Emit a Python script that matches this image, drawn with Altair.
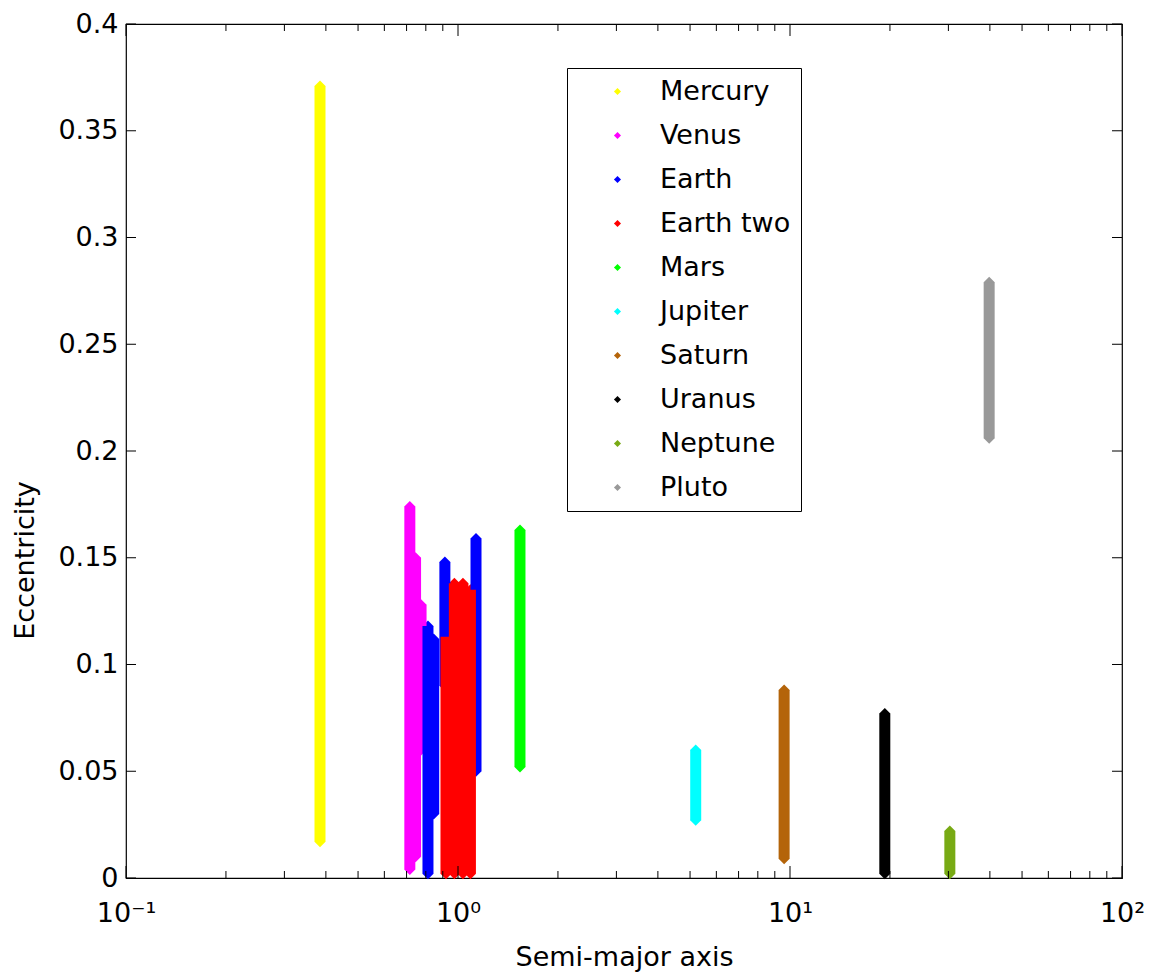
import altair as alt
import pandas as pd

planets = ["Mercury", "Venus", "Earth", "Earth two", "Mars",
           "Jupiter", "Saturn", "Uranus", "Neptune", "Pluto"]
colors = ["#ffff00", "#ff00ff", "#0000ff", "#ff0000", "#00ff00",
          "#00ffff", "#b4640a", "#000000", "#78aa14", "#999999"]

# vertical bands of the orbit clouds: planet, semi-major axis, eccentricity range
seg_planet = ["Mercury",
              "Venus", "Venus", "Venus",
              "Earth", "Earth", "Earth", "Earth",
              "Earth two", "Earth two", "Earth two", "Earth two",
              "Mars", "Jupiter", "Saturn", "Uranus", "Neptune", "Pluto"]
seg_a = [0.384,
         0.716, 0.745, 0.774,
         0.812, 0.845, 0.913, 1.133,
         0.920, 0.975, 1.035, 1.090,
         1.537, 5.2, 9.6, 19.3, 30.3, 39.8]
seg_e_low = [0.017,
             0.004, 0.010, 0.060,
             0.002, 0.030, 0.090, 0.050,
             0.002, 0.002, 0.002, 0.002,
             0.052, 0.027, 0.009, 0.002, 0.002, 0.206]
seg_e_high = [0.371,
              0.174, 0.150, 0.128,
              0.118, 0.112, 0.148, 0.159,
              0.113, 0.138, 0.138, 0.135,
              0.163, 0.060, 0.088, 0.077, 0.022, 0.279]

x_major_ticks = [0.1, 1, 10, 100]
x_minor_ticks = [0.2, 0.3, 0.4, 0.5, 0.6, 0.7, 0.8, 0.9,
                 2, 3, 4, 5, 6, 7, 8, 9,
                 20, 30, 40, 50, 60, 70, 80, 90]
y_ticks = [0, 0.05, 0.1, 0.15, 0.2, 0.25, 0.3, 0.35, 0.4]

W, H = 996, 854
FONT = "DejaVu Sans"

seg = pd.DataFrame({"planet": seg_planet, "a": seg_a,
                    "e_low": seg_e_low, "e_high": seg_e_high})

xscale = alt.Scale(type="log", domain=[0.1, 100], nice=False)
yscale = alt.Scale(domain=[0, 0.4], nice=False, zero=False)

xaxis = alt.Axis(
    title="Semi-major axis", values=x_major_ticks,
    labelExpr="'10' + (datum.value < 0.5 ? '⁻¹' : datum.value < 5 ? '⁰' : datum.value < 50 ? '¹' : '²')",
    labelFlush=False, labelOverlap=False, labelPadding=22, titlePadding=18,
    ticks=False, domain=False, grid=False,
)
yaxis = alt.Axis(
    title="Eccentricity", values=y_ticks, format=".2~f",
    labelFlush=False, labelOverlap=False, labelPadding=8,
    ticks=False, domain=False, grid=False,
    titleX=-101, titleY=536, titleAngle=270, titleAlign="center", titleBaseline="middle",
)

legend = alt.Legend(
    title=None, orient="none", legendX=441, legendY=44,
    strokeColor="black", fillColor="white", padding=10, cornerRadius=0,
    symbolType="diamond", symbolSize=50, symbolStrokeWidth=0,
    symbolOffset=27, labelOffset=29, rowPadding=16,
    labelFont=FONT, labelFontSize=27, labelColor="black", labelLimit=0,
)
color = alt.Color("planet:N", scale=alt.Scale(domain=planets, range=colors),
                  sort=planets, legend=legend)

ends = alt.Chart(seg).transform_fold(["e_low", "e_high"], as_=["end", "e"]).mark_point(
    shape="diamond", filled=True, size=121, opacity=1
).encode(
    x=alt.X("a:Q", scale=xscale, axis=xaxis),
    y=alt.Y("e:Q", scale=yscale, axis=yaxis),
    color=color,
)

bands = alt.Chart(seg).mark_rule(strokeWidth=11, strokeCap="butt").encode(
    x=alt.X("a:Q", scale=xscale, axis=xaxis),
    y=alt.Y("e_low:Q", scale=yscale, axis=yaxis),
    y2="e_high:Q",
    color=color,
)

xmaj = pd.DataFrame({"a": x_major_ticks})
xmin = pd.DataFrame({"a": x_minor_ticks})
yt = pd.DataFrame({"e": y_ticks})

def xtick(df, y0, y1):
    return alt.Chart(df).mark_rule(color="black", strokeWidth=1).encode(
        x=alt.X("a:Q", scale=xscale, axis=xaxis), y=alt.value(y0), y2=alt.value(y1))

def ytick(df, x0, x1):
    return alt.Chart(df).mark_rule(color="black", strokeWidth=1).encode(
        y=alt.Y("e:Q", scale=yscale, axis=yaxis), x=alt.value(x0), x2=alt.value(x1))

ticks = [
    xtick(xmaj, H, H - 12), xtick(xmaj, 0, 12),
    xtick(xmin, H, H - 7), xtick(xmin, 0, 7),
    ytick(yt, 0, 10), ytick(yt, W, W - 10),
]

chart = alt.layer(ends, bands, *ticks).properties(
    width=W, height=H,
    autosize=alt.AutoSizeParams(type="none"),
    padding={"left": 126, "top": 24, "right": 27, "bottom": 99},
    background="white",
).configure_view(
    stroke="black", strokeWidth=1.2
).configure_axis(
    labelFont=FONT, labelFontSize=27, labelColor="black",
    titleFont=FONT, titleFontSize=27, titleFontWeight="normal", titleColor="black",
)

chart.save("out.html", embed_options={"renderer": "svg", "actions": False})
